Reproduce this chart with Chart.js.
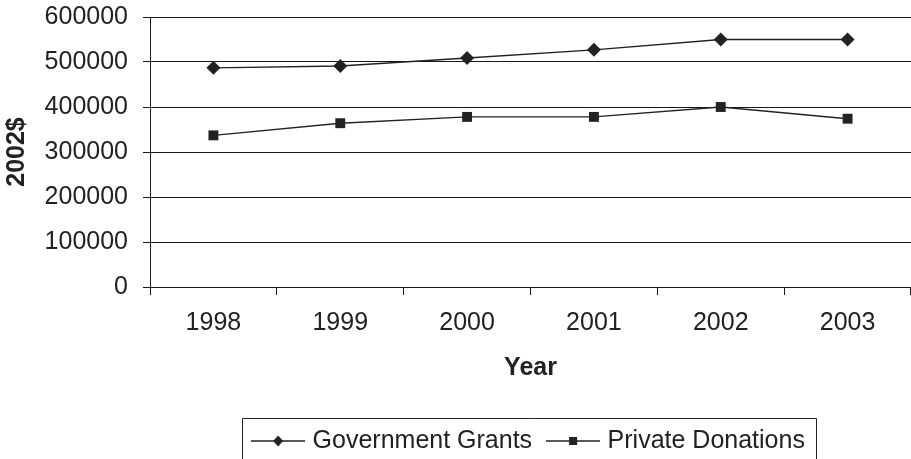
<!DOCTYPE html>
<html>
<head>
<meta charset="utf-8">
<script src="https://cdn.jsdelivr.net/npm/chart.js@4"></script>
<style>
  html, body { margin: 0; padding: 0; background: #ffffff; }
  #wrap { width: 911px; height: 459px; }
</style>
</head>
<body>
<div id="wrap"><canvas id="c" width="911" height="459"></canvas></div>
<script>
const years = ['1998', '1999', '2000', '2001', '2002', '2003'];
const governmentGrants = [487000, 491000, 509000, 527000, 550000, 550000];
const privateDonations = [337000, 364000, 378000, 378000, 400000, 374000];
const seriesNames = ['Government Grants', 'Private Donations'];
const yAxisTitle = '2002$';
const xAxisTitle = 'Year';
const yMin = 0, yMax = 600000, yStep = 100000;

const INK = '#222222';
const GRID = '#1a1a1a';
Chart.defaults.font.family = "'Liberation Sans', Arial, Helvetica, sans-serif";
Chart.defaults.color = INK;

function legendIcon(shape) {
  const cv = document.createElement('canvas');
  cv.width = 54; cv.height = 14;
  const g = cv.getContext('2d');
  g.strokeStyle = INK; g.lineWidth = 1.3;
  g.beginPath(); g.moveTo(0, 7); g.lineTo(54, 7); g.stroke();
  g.fillStyle = INK;
  g.beginPath();
  if (shape === 'diamond') {
    g.moveTo(27, 1.5); g.lineTo(32, 7); g.lineTo(27, 12.5); g.lineTo(22, 7); g.closePath();
  } else {
    g.rect(23, 3, 8, 8);
  }
  g.fill();
  return cv;
}
const icons = [legendIcon('diamond'), legendIcon('square')];

const legendBorder = {
  id: 'legendBorder',
  afterDraw(chart) {
    const hb = chart.legend && chart.legend.legendHitBoxes;
    if (!hb || !hb.length) return;
    const first = hb[0], last = hb[hb.length - 1];
    const left = Math.round(first.left - 14) + 0.5;
    const right = Math.round(last.left + last.width + 11) + 0.5;
    const top = Math.round(first.top - 10.5) + 0.5;
    const ctx = chart.ctx;
    ctx.save();
    ctx.strokeStyle = INK;
    ctx.lineWidth = 1;
    ctx.beginPath();
    ctx.moveTo(left, chart.height + 20);
    ctx.lineTo(left, top);
    ctx.lineTo(right, top);
    ctx.lineTo(right, chart.height + 20);
    ctx.stroke();
    ctx.restore();
  }
};

new Chart(document.getElementById('c'), {
  type: 'line',
  data: {
    labels: years,
    datasets: [
      {
        label: seriesNames[0],
        data: governmentGrants,
        borderColor: INK,
        backgroundColor: INK,
        borderWidth: 1.4,
        pointStyle: 'rectRot',
        pointRadius: 7,
        pointHoverRadius: 7,
        pointBackgroundColor: INK,
        pointBorderColor: INK,
        pointBorderWidth: 0,
        tension: 0,
        fill: false
      },
      {
        label: seriesNames[1],
        data: privateDonations,
        borderColor: INK,
        backgroundColor: INK,
        borderWidth: 1.4,
        pointStyle: 'rect',
        pointRadius: 7,
        pointHoverRadius: 7,
        pointBackgroundColor: INK,
        pointBorderColor: INK,
        pointBorderWidth: 0,
        tension: 0,
        fill: false
      }
    ]
  },
  options: {
    responsive: false,
    animation: false,
    events: [],
    layout: { autoPadding: false, padding: { top: 17, right: 0, bottom: -4.5, left: 0 } },
    plugins: {
      tooltip: { enabled: false },
      legend: {
        display: true,
        position: 'bottom',
        fullSize: false,
        labels: {
          usePointStyle: true,
          pointStyleWidth: 44,
          boxHeight: 14,
          padding: 19,
          color: INK,
          font: { size: 25 },
          generateLabels(chart) {
            return chart.data.datasets.map((ds, i) => ({
              text: ds.label,
              pointStyle: icons[i],
              fillStyle: INK,
              strokeStyle: INK,
              lineWidth: 0,
              fontColor: INK,
              hidden: false,
              datasetIndex: i
            }));
          }
        }
      }
    },
    scales: {
      x: {
        offset: true,
        afterFit(scale) { scale.paddingLeft = 0; scale.paddingRight = 0; },
        grid: {
          display: true,
          offset: true,
          drawOnChartArea: false,
          drawTicks: true,
          tickLength: 8,
          color: GRID,
          lineWidth: 1
        },
        border: { display: true, color: GRID, width: 1 },
        ticks: { color: INK, font: { size: 25 }, padding: 13, maxRotation: 0 },
        title: {
          display: true,
          text: xAxisTitle,
          color: INK,
          font: { size: 25, weight: 'bold' },
          padding: { top: 2, bottom: 26.5 }
        }
      },
      y: {
        min: yMin,
        max: yMax,
        afterFit(scale) { scale.width = 150; scale.paddingTop = 0; scale.paddingBottom = 0; },
        grid: {
          color: GRID,
          lineWidth: 1,
          drawTicks: true,
          tickLength: 7,
          tickColor: GRID
        },
        border: { display: true, color: GRID, width: 1 },
        ticks: {
          stepSize: yStep,
          color: INK,
          font: { size: 25 },
          padding: 15,
          callback: (v) => String(v)
        },
        title: {
          display: true,
          text: yAxisTitle,
          color: INK,
          font: { size: 25, weight: 'bold' },
          padding: { top: 2, bottom: 0 }
        }
      }
    }
  },
  plugins: [legendBorder]
});
</script>
</body>
</html>
